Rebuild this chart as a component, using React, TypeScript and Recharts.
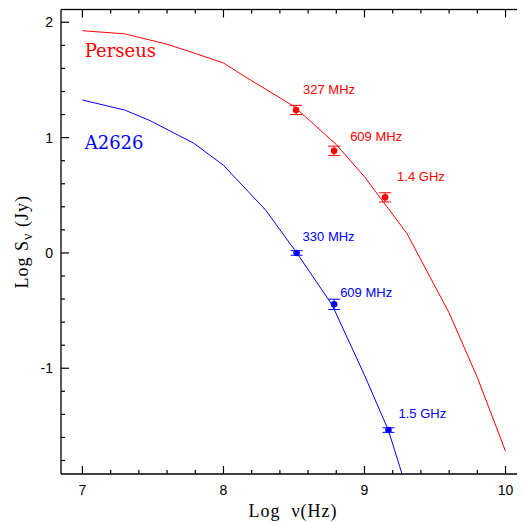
import {
  ComposedChart,
  ErrorBar,
  Line,
  ReferenceDot,
  Scatter,
  XAxis,
  YAxis,
} from "recharts";

// axis ticks (log units)
const xTicks = [7, 7.2, 7.4, 7.6, 7.8, 8, 8.2, 8.4, 8.6, 8.8, 9, 9.2, 9.4, 9.6, 9.8, 10];
const yTicks = [
  -1.8, -1.6, -1.4, -1.2, -1, -0.8, -0.6, -0.4, -0.2, 0, 0.2, 0.4, 0.6, 0.8, 1,
  1.2, 1.4, 1.6, 1.8, 2,
];
const majorX = [7, 8, 9, 10];
const majorY = [-1, 0, 1, 2];

// Perseus: measured points
const perseusFreq = [8.5145, 8.7846, 9.146];
const perseusFlux = [1.24, 0.886, 0.482];
const perseusErr = [0.04, 0.04, 0.04];
const perseusLabels = ["327 MHz", "609 MHz", "1.4 GHz"];

// Perseus: model curve
const perseusModelFreq = [7.0, 7.3, 7.6, 7.8, 8.0, 8.19, 8.3, 8.5, 8.8, 9.0, 9.23, 9.3, 9.6, 9.8, 10.0];
const perseusModelFlux = [1.927, 1.9, 1.81, 1.73, 1.647, 1.5, 1.42, 1.27, 0.94, 0.66, 0.285, 0.17, -0.52, -1.08, -1.72];

// A2626: measured points
const a2626Freq = [8.5185, 8.7846, 9.17];
const a2626Flux = [0.0, -0.446, -1.536];
const a2626Err = [0.02, 0.045, 0.02];
const a2626Labels = ["330 MHz", "609 MHz", "1.5 GHz"];

// A2626: model curve
const a2626ModelFreq = [7.0, 7.3, 7.48, 7.79, 8.0, 8.3, 8.52, 8.77, 9.0, 9.17, 9.3];
const a2626ModelFlux = [1.326, 1.239, 1.147, 0.951, 0.76, 0.37, 0.0, -0.45, -1.06, -1.54, -2.05];

const RED = "#ff0000";
const BLUE = "#0000ff";
const INK = "#000";
const SANS = "'Liberation Sans', Arial, sans-serif";
const SERIF = "'Liberation Serif', 'Times New Roman', serif";

// chart geometry
const W = 517;
const H = 514;
const TOP = 1.5;
const LEFT_W = 53;
const BOTTOM_H = 48;
const PLOT_W = W - LEFT_W;
const PLOT_H = H - TOP - BOTTOM_H;
const TW = 1.2; // tick thickness

const xDomain = [6.848, 10.138];
const yDomain = [-1.917, 2.111];

const toPoints = (xs: number[], ys: number[], errs?: number[], labels?: string[]) =>
  xs.map((x, i) => ({ x, y: ys[i], err: errs ? errs[i] : 0, label: labels ? labels[i] : "" }));

const perseusPoints = toPoints(perseusFreq, perseusFlux, perseusErr, perseusLabels);
const a2626Points = toPoints(a2626Freq, a2626Flux, a2626Err, a2626Labels);
const perseusModel = toPoints(perseusModelFreq, perseusModelFlux);
const a2626Model = toPoints(a2626ModelFreq, a2626ModelFlux);

// pixel offsets of the frequency labels from their points
const perseusLabelOffset = [
  [7, -16],
  [16, -10],
  [12, -16],
];
const a2626LabelOffset = [
  [6, -12],
  [6, -7],
  [10, -12],
];

// bottom axis tick: inward marks on the bottom and top edges, label below
const BottomTick = ({ x, y, payload }: any) => {
  const major = majorX.includes(payload.value);
  const len = major ? 8 : 4;
  return (
    <g>
      <rect x={x - TW / 2} y={y - len} width={TW} height={len} fill={INK} />
      <rect x={x - TW / 2} y={y - PLOT_H} width={TW} height={len} fill={INK} />
      {major && (
        <text x={x} y={y + 21} textAnchor="middle" fontSize={14} fontFamily={SANS} fill={INK}>
          {payload.value}
        </text>
      )}
    </g>
  );
};

// left axis tick: inward marks on the left and right edges, label on the left
const LeftTick = ({ x, y, payload }: any) => {
  const major = majorY.includes(payload.value);
  const len = major ? 8 : 4;
  return (
    <g>
      <rect x={x} y={y - TW / 2} width={len} height={TW} fill={INK} />
      <rect x={x + PLOT_W - len} y={y - TW / 2} width={len} height={TW} fill={INK} />
      {major && (
        <text x={x - 8} y={y + 5} textAnchor="end" fontSize={14} fontFamily={SANS} fill={INK}>
          {payload.value}
        </text>
      )}
    </g>
  );
};

const dot = (color: string) => (p: any) => <circle cx={p.cx} cy={p.cy} r={3.3} fill={color} />;

const freqLabel = (text: string, color: string, off: number[]) => (p: any) => (
  <text x={p.cx + off[0]} y={p.cy + off[1]} fontSize={13} fontFamily={SANS} fill={color}>
    {text}
  </text>
);

const nameLabel = (text: string, color: string) => (p: any) => (
  <text x={p.cx} y={p.cy} fontSize={18} fontFamily="'DejaVu Serif', serif" fill={color}>
    {text}
  </text>
);

export default function App() {
  return (
    <ComposedChart width={W} height={H} margin={{ top: TOP, right: 0, bottom: 0, left: 0 }}>
      <XAxis
        type="number"
        dataKey="x"
        domain={xDomain}
        allowDataOverflow
        ticks={xTicks}
        interval={0}
        height={BOTTOM_H}
        tickSize={0}
        tickMargin={0}
        tickLine={false}
        tick={BottomTick}
        axisLine={{ stroke: INK, strokeWidth: 1.3 }}
        label={{
          content: ({ viewBox }: any) => (
            <g>
              <rect
                x={viewBox.x}
                y={viewBox.y - PLOT_H - 0.65}
                width={viewBox.width}
                height={1.3}
                fill={INK}
              />
              <text
                x={viewBox.x + viewBox.width / 2}
                y={viewBox.y + 43}
                textAnchor="middle"
                fontSize={18}
                letterSpacing={1}
                fontFamily={SERIF}
                fill={INK}
              >
                {"Log\u00a0\u00a0\u03bd(Hz)"}
              </text>
            </g>
          ),
        }}
      />
      <YAxis
        type="number"
        dataKey="y"
        domain={yDomain}
        allowDataOverflow
        ticks={yTicks}
        interval={0}
        width={LEFT_W}
        tickSize={0}
        tickMargin={0}
        tickLine={false}
        tick={LeftTick}
        axisLine={{ stroke: INK, strokeWidth: 1.3 }}
        label={{
          content: ({ viewBox }: any) => {
            const cx = 20;
            const cy = viewBox.y + viewBox.height / 2;
            return (
              <text
                x={cx}
                y={cy}
                textAnchor="middle"
                fontSize={18}
                letterSpacing={1}
                fontFamily={SERIF}
                fill={INK}
                transform={`rotate(-90, ${cx}, ${cy})`}
              >
                {"Log\u00a0S"}
                <tspan dy={4} fontSize={14}>{"\u03bd"}</tspan>
                <tspan dy={-4}>{"\u00a0(Jy)"}</tspan>
              </text>
            );
          },
        }}
      />

      <Line
        data={perseusModel}
        dataKey="y"
        type="linear"
        stroke={RED}
        strokeWidth={1}
        dot={false}
        isAnimationActive={false}
      />
      <Line
        data={a2626Model}
        dataKey="y"
        type="linear"
        stroke={BLUE}
        strokeWidth={1}
        dot={false}
        isAnimationActive={false}
      />

      <Scatter data={perseusPoints} dataKey="y" shape={dot(RED)} isAnimationActive={false}>
        <ErrorBar dataKey="err" direction="y" width={6} stroke={RED} strokeWidth={1} />
      </Scatter>
      <Scatter data={a2626Points} dataKey="y" shape={dot(BLUE)} isAnimationActive={false}>
        <ErrorBar dataKey="err" direction="y" width={6} stroke={BLUE} strokeWidth={1} />
      </Scatter>

      {perseusPoints.map((p, i) => (
        <ReferenceDot
          key={`pl${i}`}
          x={p.x}
          y={p.y}
          r={0}
          shape={freqLabel(p.label, RED, perseusLabelOffset[i])}
        />
      ))}
      {a2626Points.map((p, i) => (
        <ReferenceDot
          key={`al${i}`}
          x={p.x}
          y={p.y}
          r={0}
          shape={freqLabel(p.label, BLUE, a2626LabelOffset[i])}
        />
      ))}

      <ReferenceDot x={7.016} y={1.7} r={0} shape={nameLabel("Perseus", RED)} />
      <ReferenceDot x={7.016} y={0.898} r={0} shape={nameLabel("A2626", BLUE)} />
    </ComposedChart>
  );
}
